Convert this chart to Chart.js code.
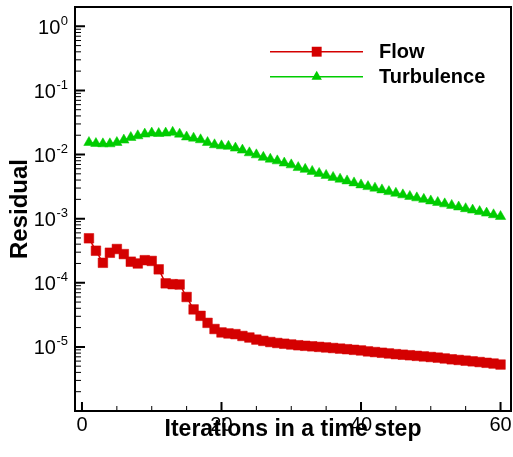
<!DOCTYPE html>
<html>
<head>
<meta charset="utf-8">
<script src="https://cdn.jsdelivr.net/npm/chart.js@4/dist/chart.umd.min.js"></script>
<style>
  html, body { margin: 0; padding: 0; background: #fff; }
  #wrap { width: 513px; height: 457px; position: relative; }
</style>
</head>
<body>
<div id="wrap"><canvas id="residualChart"></canvas></div>
<script>
// iteration number for each point
const iterations = [1, 2, 3, 4, 5, 6, 7, 8, 9, 10, 11, 12, 13, 14, 15, 16, 17, 18, 19, 20,
  21, 22, 23, 24, 25, 26, 27, 28, 29, 30, 31, 32, 33, 34, 35, 36, 37, 38, 39, 40,
  41, 42, 43, 44, 45, 46, 47, 48, 49, 50, 51, 52, 53, 54, 55, 56, 57, 58, 59, 60];

const flowResidual = [4.94e-4, 3.16e-4, 2.05e-4, 2.94e-4, 3.36e-4, 2.8e-4, 2.13e-4, 2.0e-4, 2.25e-4, 2.19e-4,
  1.62e-4, 9.8e-5, 9.5e-5, 9.4e-5, 6.0e-5, 3.84e-5, 3.05e-5, 2.37e-5, 1.9e-5, 1.68e-5,
  1.62e-5, 1.58e-5, 1.48e-5, 1.40e-5, 1.30e-5, 1.24e-5, 1.19e-5, 1.15e-5, 1.12e-5, 1.09e-5,
  1.06e-5, 1.04e-5, 1.02e-5, 1.00e-5, 9.8e-6, 9.6e-6, 9.4e-6, 9.2e-6, 9.0e-6, 8.8e-6,
  8.5e-6, 8.3e-6, 8.1e-6, 7.9e-6, 7.7e-6, 7.55e-6, 7.4e-6, 7.25e-6, 7.1e-6, 6.95e-6,
  6.8e-6, 6.6e-6, 6.4e-6, 6.25e-6, 6.1e-6, 5.95e-6, 5.8e-6, 5.65e-6, 5.5e-6, 5.3e-6];

const turbulenceResidual = [0.0154, 0.01486, 0.01469, 0.01469, 0.0154, 0.0168, 0.01844, 0.0196, 0.02084, 0.0216,
  0.0213, 0.0216, 0.0222, 0.0208, 0.0188, 0.0180, 0.0170, 0.0154, 0.0142, 0.01368,
  0.01343, 0.01259, 0.01172, 0.01064, 0.00989, 0.00904, 0.00847, 0.00797, 0.00737, 0.0069,
  0.00626, 0.00587, 0.00546, 0.00508, 0.00473, 0.0044, 0.00413, 0.00388, 0.00361, 0.00336,
  0.00316, 0.00299, 0.00281, 0.00264, 0.00249, 0.00235, 0.00222, 0.00211, 0.002, 0.00189,
  0.00179, 0.0017, 0.00161, 0.00152, 0.00143, 0.00136, 0.00129, 0.00122, 0.00115, 0.00108];

const xTickValues = [0, 5, 10, 15, 20, 25, 30, 35, 40, 45, 50, 55, 60];
const xTickLabels = ['0', '', '', '', '20', '', '', '', '40', '', '', '', '60'];
const yExponents = [0, -1, -2, -3, -4, -5];

const FLOW_RED = '#d40000';
const TURB_GREEN = '#00cc00';
const FONT = "'Liberation Sans', Arial, Helvetica, sans-serif";

Chart.defaults.font.family = FONT;
Chart.defaults.color = '#000';

// frame, inward ticks, superscript y labels and the legend box
const axisDecor = {
  id: 'axisDecor',
  afterDraw(chart) {
    const { ctx, chartArea: a, scales: { x, y } } = chart;
    ctx.save();
    ctx.strokeStyle = '#000';

    // minor ticks
    ctx.lineWidth = 1;
    ctx.beginPath();
    yExponents.concat([-6]).forEach(e => {
      for (let m = 2; m <= 9; m++) {
        const v = m * Math.pow(10, e);
        if (v > y.max) continue;
        const py = y.getPixelForValue(v);
        ctx.moveTo(a.left, py);
        ctx.lineTo(a.left + 6, py);
      }
    });
    xTickValues.forEach((v, i) => {
      if (xTickLabels[i] !== '') return;
      const px = x.getPixelForValue(v);
      ctx.moveTo(px, a.bottom);
      ctx.lineTo(px, a.bottom - 5);
    });
    ctx.stroke();

    // major ticks
    ctx.lineWidth = 2;
    ctx.beginPath();
    yExponents.forEach(e => {
      const py = y.getPixelForValue(Math.pow(10, e));
      ctx.moveTo(a.left, py);
      ctx.lineTo(a.left + 10, py);
    });
    xTickValues.forEach((v, i) => {
      if (xTickLabels[i] === '') return;
      const px = x.getPixelForValue(v);
      ctx.moveTo(px, a.bottom);
      ctx.lineTo(px, a.bottom - 9);
    });
    ctx.stroke();

    // frame
    ctx.strokeRect(a.left, a.top, a.right - a.left, a.bottom - a.top);

    // y labels 10^n
    ctx.fillStyle = '#000';
    ctx.textBaseline = 'alphabetic';
    ctx.textAlign = 'right';
    yExponents.forEach(e => {
      const py = y.getPixelForValue(Math.pow(10, e));
      const exp = String(e);
      ctx.font = '13px ' + FONT;
      const ew = ctx.measureText(exp).width;
      ctx.fillText(exp, 68, py - 1.7);
      ctx.font = '20px ' + FONT;
      ctx.fillText('10', 68 - ew - 0.5, py + 7.6);
    });

    // legend
    const items = [
      { label: 'Flow', color: FLOW_RED, style: 'rect', r: 7, y: 51.7 },
      { label: 'Turbulence', color: TURB_GREEN, style: 'triangle', r: 6, y: 76.7 }
    ];
    items.forEach(it => {
      ctx.strokeStyle = it.color;
      ctx.lineWidth = 1.5;
      ctx.beginPath();
      ctx.moveTo(270, it.y);
      ctx.lineTo(363, it.y);
      ctx.stroke();
      ctx.fillStyle = it.color;
      Chart.helpers.drawPoint(ctx, { pointStyle: it.style, radius: it.r, borderWidth: 0 }, 316.7, it.y);
      ctx.fillStyle = '#000';
      ctx.textAlign = 'left';
      ctx.textBaseline = 'middle';
      ctx.font = 'bold 20px ' + FONT;
      ctx.fillText(it.label, 379, it.y + 1);
    });
    ctx.restore();
  }
};

const ctx = document.getElementById('residualChart').getContext('2d');
const chart = new Chart(ctx, {
  type: 'line',
  data: {
    labels: iterations,
    datasets: [
      {
        label: 'Flow',
        data: iterations.map((it, i) => ({ x: it, y: flowResidual[i] })),
        borderColor: FLOW_RED,
        backgroundColor: FLOW_RED,
        borderWidth: 1.5,
        pointStyle: 'rect',
        pointRadius: 6.8,
        pointBorderWidth: 0.5,
        pointBorderColor: FLOW_RED,
        pointBackgroundColor: FLOW_RED
      },
      {
        label: 'Turbulence',
        data: iterations.map((it, i) => ({ x: it, y: turbulenceResidual[i] })),
        borderColor: TURB_GREEN,
        backgroundColor: TURB_GREEN,
        borderWidth: 1.5,
        pointStyle: 'triangle',
        pointRadius: 6,
        pointBorderWidth: 0.5,
        pointBorderColor: TURB_GREEN,
        pointBackgroundColor: TURB_GREEN
      }
    ]
  },
  options: {
    responsive: true,
    maintainAspectRatio: false,
    devicePixelRatio: 1,
    animation: false,
    layout: { autoPadding: false, padding: { top: 7, right: 2, bottom: 0, left: 0 } },
    plugins: {
      legend: { display: false },
      tooltip: { enabled: false }
    },
    scales: {
      x: {
        type: 'linear',
        min: -1,
        max: 61.5,
        afterBuildTicks: scale => {
          scale.ticks = xTickValues.map(v => ({ value: v }));
        },
        afterFit: scale => {
          // don't let the "60" label shrink the plot box
          scale.paddingLeft = 0;
          scale.paddingRight = 0;
        },
        grid: { display: false, drawTicks: false },
        border: { display: false },
        ticks: {
          autoSkip: false,
          maxRotation: 0,
          padding: 4,
          font: { size: 20, lineHeight: 1 },
          callback: (value) => {
            const i = xTickValues.indexOf(value);
            return i >= 0 ? xTickLabels[i] : '';
          }
        },
        title: {
          display: true,
          text: 'Iterations in a time step',
          font: { size: 23, weight: 'bold', lineHeight: 1 },
          padding: { top: -21, bottom: 16 }
        }
      },
      y: {
        type: 'logarithmic',
        min: 1e-6,
        max: 2,
        grid: { display: false, drawTicks: false },
        border: { display: false },
        ticks: { display: false },
        title: {
          display: true,
          text: 'Residual',
          font: { size: 24, weight: 'bold', lineHeight: 1 },
          padding: { top: 8, bottom: 43 }
        }
      }
    }
  },
  plugins: [axisDecor]
});
</script>
</body>
</html>
